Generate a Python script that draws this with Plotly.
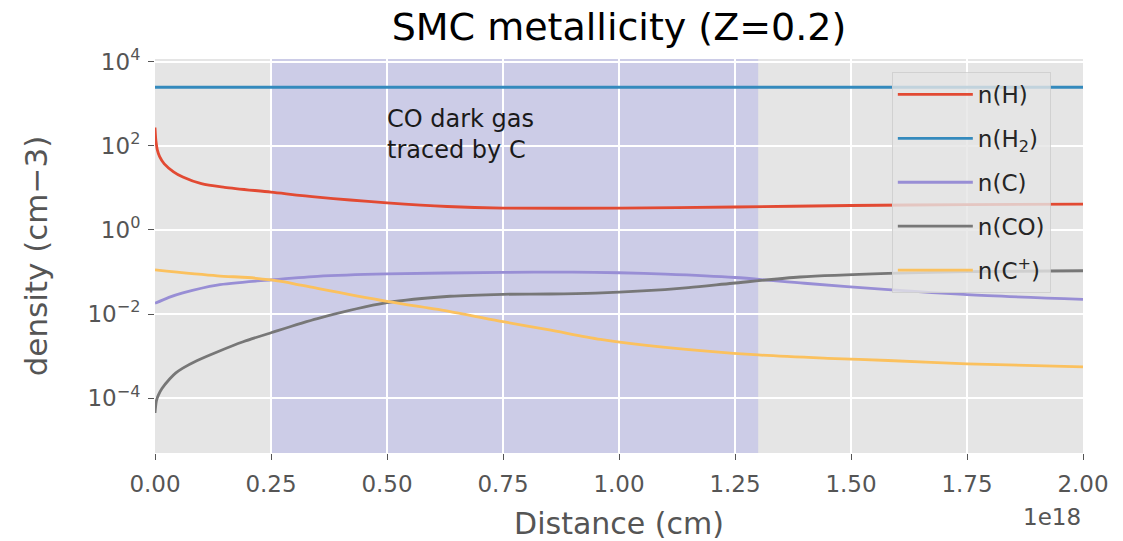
import plotly.graph_objects as go

# ---- data (x in cm, densities in cm^-3) ----
x_H = [0, 0.002e18, 0.005e18, 0.01e18, 0.02e18, 0.04e18, 0.06e18, 0.1e18, 0.15e18, 0.25e18,
       0.35e18, 0.5e18, 0.63e18, 0.75e18, 1.0e18, 1.25e18, 1.5e18, 1.75e18, 2.0e18]
n_H = [270, 130, 80, 55, 37, 24, 18, 12.5, 10.3, 7.9, 6.0, 4.4, 3.6, 3.3, 3.3, 3.5, 3.8, 4.0, 4.1]

x_H2 = [0, 0.5e18, 1.0e18, 1.5e18, 2.0e18]
n_H2 = [2450, 2450, 2450, 2450, 2450]

x_C = [0, 0.03e18, 0.06e18, 0.134e18, 0.25e18, 0.35e18, 0.5e18, 0.75e18, 0.9e18, 1.0e18,
       1.1e18, 1.25e18, 1.4e18, 1.58e18, 1.75e18, 2.0e18]
n_C = [0.018, 0.025, 0.032, 0.049, 0.065, 0.079, 0.090, 0.098, 0.099, 0.096,
       0.089, 0.074, 0.054, 0.038, 0.029, 0.0224]

x_CO = [0, 0.003e18, 0.007e18, 0.015e18, 0.032e18, 0.045e18, 0.06e18, 0.09e18, 0.134e18,
        0.19e18, 0.25e18, 0.35e18, 0.5e18, 0.636e18, 0.75e18, 0.85e18, 0.95e18, 1.05e18,
        1.15e18, 1.245e18, 1.39e18, 1.58e18, 1.75e18, 2.0e18]
n_CO = [4.5e-5, 8.7e-5, 1.17e-4, 1.7e-4, 2.9e-4, 4.0e-4, 5.2e-4, 7.8e-4, 1.26e-3,
        2.2e-3, 3.6e-3, 7.8e-3, 0.0186, 0.0265, 0.0295, 0.030, 0.0316, 0.0355,
        0.0427, 0.054, 0.076, 0.093, 0.102, 0.107]

x_Cp = [0, 0.134e18, 0.2e18, 0.25e18, 0.3e18, 0.35e18, 0.5e18, 0.636e18, 0.75e18, 0.85e18,
        0.96e18, 1.1e18, 1.3e18, 1.45e18, 1.58e18, 1.75e18, 2.0e18]
n_Cp = [0.112, 0.081, 0.074, 0.0646, 0.0525, 0.0407, 0.020, 0.0115, 0.0066, 0.0042,
        0.0025, 0.00162, 0.00107, 0.00089, 0.00079, 0.00066, 0.00056]

span_start, span_end = 0.25e18, 1.3e18

x_tickvals = [0, 0.25e18, 0.5e18, 0.75e18, 1.0e18, 1.25e18, 1.5e18, 1.75e18, 2.0e18]
x_ticktext = ["0.00", "0.25", "0.50", "0.75", "1.00", "1.25", "1.50", "1.75", "2.00"]
y_tickvals = [1e-4, 1e-2, 1, 1e2, 1e4]
y_ticktext = ["10<sup>−4</sup>", "10<sup>−2</sup>", "10<sup>0</sup>", "10<sup>2</sup>", "10<sup>4</sup>"]

FONT = "DejaVu Sans"
series = [
    (x_H, n_H, "n(H)", "#E24A33"),
    (x_H2, n_H2, "n(H<sub>2</sub>)", "#348ABD"),
    (x_C, n_C, "n(C)", "#988ED5"),
    (x_CO, n_CO, "n(CO)", "#777777"),
    (x_Cp, n_Cp, "n(C<sup>+</sup>)", "#FBC15E"),
]

fig = go.Figure()
for i, (xs, ys, name, col) in enumerate(series):
    fig.add_trace(go.Scatter(x=xs, y=ys, mode="lines", name=name, legendgroup=f"g{i}",
                             line=dict(color=col, width=2.8, shape="spline", smoothing=0.8)))

fig.add_vrect(x0=span_start, x1=span_end, fillcolor="rgba(0,0,255,0.105)", line_width=0,
              layer="below")

fig.add_annotation(x=0.5e18, y=0.808, xref="x", yref="paper",
                   text="CO dark gas<br>traced by C",
                   showarrow=False, xanchor="left", yanchor="middle", align="left", xshift=-2,
                   font=dict(family=FONT, size=24, color="#1a1a1a"))
fig.add_annotation(x=1.0, y=-0.162, xref="paper", yref="paper", text="1e18",
                   showarrow=False, xanchor="right", yanchor="middle",
                   font=dict(family=FONT, size=23, color="#555555"))

fig.update_layout(
    width=1123, height=541,
    margin=dict(l=155, r=40, t=59, b=88),
    paper_bgcolor="white", plot_bgcolor="#E5E5E5",
    font=dict(family=FONT, color="#555555"),
    title=dict(text="SMC metallicity (Z=0.2)", x=0.5, xref="paper", xanchor="center",
               y=1 - 27 / 541, yref="container", yanchor="middle",
               font=dict(family=FONT, size=38, color="#000000")),
    showlegend=True,
    legend=dict(x=0.794, y=0.967, xanchor="left", yanchor="top",
                bgcolor="rgba(229,229,229,0.8)", bordercolor="rgba(204,204,204,0.8)",
                borderwidth=1, tracegroupgap=11, itemwidth=75,
                font=dict(family=FONT, size=23, color="#262626")),
    xaxis=dict(range=[0, 2e18], tickvals=x_tickvals, ticktext=x_ticktext,
               ticks="outside", ticklen=6, tickwidth=1.2, tickcolor="#555555",
               ticklabelstandoff=4,
               showgrid=True, gridcolor="white", gridwidth=1.5, zeroline=False,
               showline=False, automargin=False,
               tickfont=dict(family=FONT, size=23, color="#555555"),
               title=dict(text="Distance (cm)", standoff=18,
                          font=dict(family=FONT, size=30, color="#555555"))),
    yaxis=dict(type="log", range=[-5.30, 4.06], tickvals=y_tickvals, ticktext=y_ticktext,
               ticks="outside", ticklen=6, tickwidth=1.2, tickcolor="#555555",
               ticklabelstandoff=3,
               showgrid=True, gridcolor="white", gridwidth=1.5, zeroline=False,
               showline=False, automargin=False,
               tickfont=dict(family=FONT, size=23, color="#555555"),
               title=dict(text="density (cm−3)", standoff=30,
                          font=dict(family=FONT, size=31, color="#555555"))),
)

fig.write_html("out.html")
